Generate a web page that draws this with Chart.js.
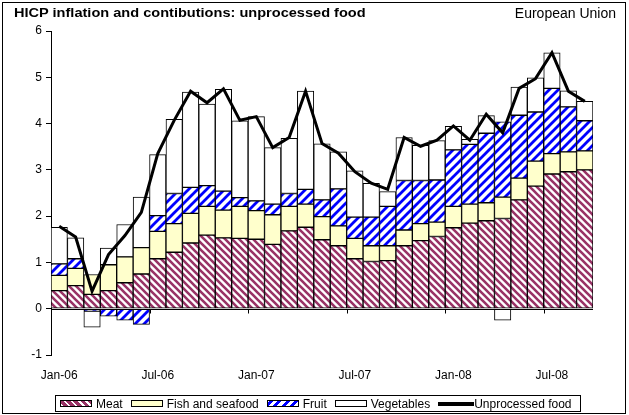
<!DOCTYPE html>
<html><head><meta charset="utf-8">
<script src="https://cdn.jsdelivr.net/npm/chart.js@4.4.1/dist/chart.umd.min.js"></script>
<style>
html,body{margin:0;padding:0;background:#fff;}
#wrap{position:relative;width:629px;height:415px;overflow:hidden;background:#fff;}
#frame{position:absolute;left:2px;top:2px;width:624px;height:412px;border:1px solid #000;box-sizing:border-box;}
canvas{position:absolute;left:0;top:0;}
#title{position:absolute;left:14px;top:5px;font:bold 13px "Liberation Sans",Arial,sans-serif;color:#000;white-space:nowrap;transform:scaleX(1.12);transform-origin:0 0;}
#region{position:absolute;right:13px;top:5px;font:14px "Liberation Sans",Arial,sans-serif;color:#000;white-space:nowrap;}
#legend{position:absolute;left:55px;top:395px;width:526px;height:17px;border:1px solid #000;box-sizing:border-box;display:flex;align-items:center;padding-left:4px;font:12px "Liberation Sans",Arial,sans-serif;color:#000;white-space:nowrap;}
.sw{width:32px;height:7px;border:1px solid #000;box-sizing:border-box;margin-right:4px;flex:none;}
.lbl{margin-right:8px;}
.ln{width:36px;height:4px;background:#000;flex:none;}
</style></head>
<body>
<div id="wrap">
<canvas id="c" width="629" height="415"></canvas>
<div id="frame"></div>
<div id="title">HICP inflation and contibutions: unprocessed food</div>
<div id="region">European Union</div>
<div id="legend"></div>
</div>
<script>
const categories = ['Jan-06','Feb-06','Mar-06','Apr-06','May-06','Jun-06','Jul-06','Aug-06','Sep-06','Oct-06','Nov-06','Dec-06',
  'Jan-07','Feb-07','Mar-07','Apr-07','May-07','Jun-07','Jul-07','Aug-07','Sep-07','Oct-07','Nov-07','Dec-07',
  'Jan-08','Feb-08','Mar-08','Apr-08','May-08','Jun-08','Jul-08','Aug-08','Sep-08'];
const xTickLabels = ['Jan-06','Jul-06','Jan-07','Jul-07','Jan-08','Jul-08'];
const seriesNames = ['Meat','Fish and seafood','Fruit','Vegetables','Unprocessed food'];
const meat = [0.39,0.50,0.31,0.39,0.56,0.75,1.08,1.22,1.42,1.59,1.53,1.52,1.50,1.39,1.68,1.76,1.49,1.36,1.08,1.02,1.04,1.36,1.47,1.56,1.75,1.85,1.90,1.95,2.35,2.65,2.91,2.96,3.00];
const fish = [0.33,0.37,0.43,0.56,0.56,0.57,0.59,0.62,0.64,0.62,0.60,0.69,0.62,0.64,0.53,0.50,0.50,0.43,0.44,0.34,0.32,0.34,0.37,0.31,0.46,0.41,0.39,0.46,0.47,0.54,0.44,0.43,0.41];
const fruit = [0.25,0.21,-0.05,-0.16,-0.25,-0.34,0.34,0.65,0.56,0.45,0.41,0.19,0.21,0.23,0.28,0.32,0.36,0.80,0.46,0.62,0.85,1.07,0.93,0.91,1.22,1.29,1.50,1.63,1.36,1.06,1.41,0.97,0.65];
const vegetables = [0.79,0.45,-0.35,0.36,0.70,1.09,1.32,1.60,2.06,1.76,2.20,1.66,1.82,1.22,1.19,2.12,1.21,0.80,1.00,0.73,0.32,0.93,0.76,0.85,0.51,0.11,0.38,-0.25,0.61,0.74,0.77,0.35,0.42];
const unprocessed = [1.78,1.55,0.38,1.17,1.58,2.08,3.35,4.07,4.70,4.45,4.75,4.07,4.15,3.48,3.70,4.70,3.57,3.36,2.96,2.71,2.58,3.70,3.51,3.64,3.95,3.64,4.20,3.80,4.76,4.97,5.53,4.70,4.48];
const yTicks = {min:-1, max:6, step:1};

function makePattern(color, p, lw, dir){
  const c=document.createElement('canvas'); c.width=p; c.height=p;
  const g=c.getContext('2d'); g.fillStyle='#fff'; g.fillRect(0,0,p,p);
  g.strokeStyle=color; g.lineWidth=lw; g.beginPath();
  for(let k=-1;k<=1;k++){
    if(dir==='\\'){ g.moveTo(k*p-1,-1); g.lineTo(k*p+p+1,p+1); }
    else { g.moveTo(k*p-1,p+1); g.lineTo(k*p+p+1,-1); }
  }
  g.stroke();
  return document.getElementById('c').getContext('2d').createPattern(c,'repeat');
}
const meatPat = makePattern('#993366',7,2.6,'\\');
const fruitPat = makePattern('#0000ff',9,2.8,'/');

// HTML legend
const leg=document.getElementById('legend');
const swStyles=[
  'background:repeating-linear-gradient(45deg,#fff 0 2px,#993366 2px 5px)',
  'background:#ffffcc',
  'background:repeating-linear-gradient(-45deg,#fff 0 3px,#0000ff 3px 6px)',
  'background:#fff'
];
seriesNames.forEach((n,i)=>{
  if(i<4){const s=document.createElement('div');s.className='sw';s.setAttribute('style',swStyles[i]);leg.appendChild(s);}
  else {const s=document.createElement('div');s.className='ln';leg.appendChild(s);}
  const t=document.createElement('span');t.className='lbl';t.textContent=n;leg.appendChild(t);
});

const zeroAxis={id:'zeroAxis',afterDatasetsDraw(chart){
  const {ctx,chartArea:a,scales:{x,y}}=chart;
  const y0=Math.round(y.getPixelForValue(0))+0.5;
  const half=(x.getPixelForValue(1)-x.getPixelForValue(0))/2;
  ctx.save(); ctx.strokeStyle='#000'; ctx.lineWidth=1; ctx.beginPath();
  ctx.moveTo(a.left,y0); ctx.lineTo(a.right,y0);
  categories.forEach((c,i)=>{ if(xTickLabels.includes(c)){ const px=Math.round(x.getPixelForValue(i)-half)+0.5; ctx.moveTo(px,y0); ctx.lineTo(px,y0+4);} });
  ctx.stroke(); ctx.restore();
}};

Chart.defaults.font.family='"Liberation Sans", Arial, sans-serif';
Chart.defaults.color='#000';
const barCommon={borderColor:'#000',borderWidth:1,borderSkipped:false,barPercentage:1,categoryPercentage:1,stack:'s'};
new Chart(document.getElementById('c'),{
  data:{labels:categories,datasets:[
    {type:'line',label:seriesNames[4],data:unprocessed,borderColor:'#000',borderWidth:3,pointRadius:0,tension:0,stack:'line',order:-1,fill:false},
    Object.assign({type:'bar',label:seriesNames[0],data:meat,backgroundColor:meatPat},barCommon),
    Object.assign({type:'bar',label:seriesNames[1],data:fish,backgroundColor:'#ffffcc'},barCommon),
    Object.assign({type:'bar',label:seriesNames[2],data:fruit,backgroundColor:fruitPat},barCommon),
    Object.assign({type:'bar',label:seriesNames[3],data:vegetables,backgroundColor:'#ffffff'},barCommon)
  ]},
  options:{
    responsive:false,animation:false,devicePixelRatio:1,
    layout:{padding:{left:0,right:36,top:31,bottom:0}},
    plugins:{legend:{display:false},tooltip:{enabled:false},title:{display:false}},
    scales:{
      x:{stacked:true,offset:true,grid:{display:false,drawTicks:false,offset:true},border:{display:false},
        ticks:{autoSkip:false,maxRotation:0,minRotation:0,padding:13,font:{size:12},
          callback:(v,i)=>xTickLabels.includes(categories[i])?categories[i]:''},
        afterFit:s=>{s.height=60;}},
      y:{stacked:true,min:yTicks.min,max:yTicks.max,
        ticks:{stepSize:yTicks.step,padding:4,font:{size:12}},
        grid:{drawOnChartArea:false,color:'#000',tickColor:'#000',tickLength:5},
        border:{display:true,color:'#000',width:1},
        afterFit:s=>{s.width=51;}}
    }
  },
  plugins:[zeroAxis]
});
</script>
</body></html>
